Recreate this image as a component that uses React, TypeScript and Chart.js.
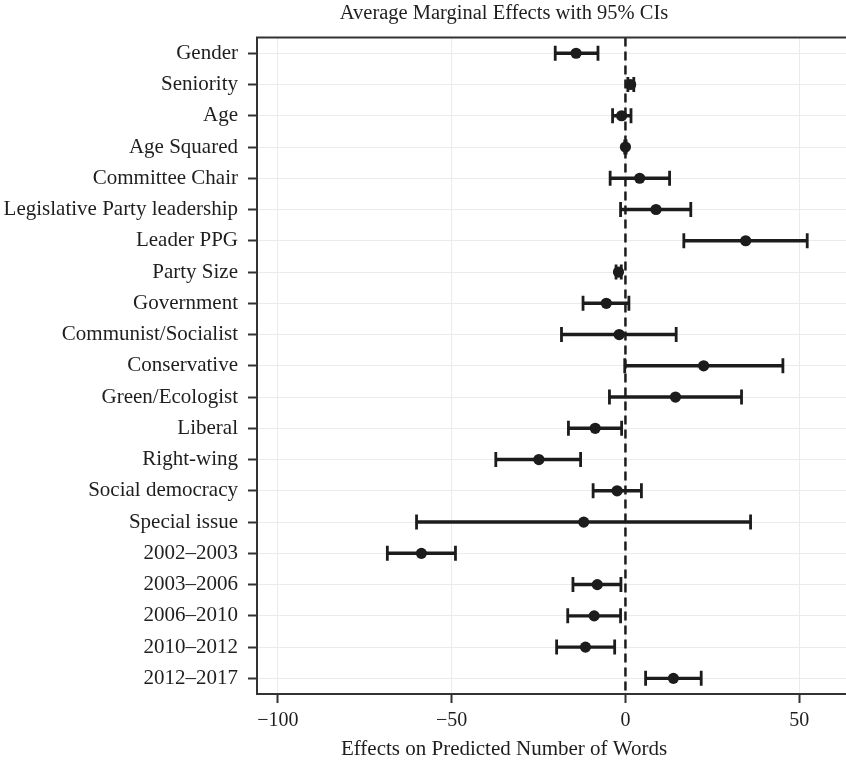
import React, { useEffect, useRef } from "react";
import { Chart, registerables } from "chart.js";

Chart.register(...registerables);

// ---- data ----
const CATEGORIES = [
  "Gender",
  "Seniority",
  "Age",
  "Age Squared",
  "Committee Chair",
  "Legislative Party leadership",
  "Leader PPG",
  "Party Size",
  "Government",
  "Communist/Socialist",
  "Conservative",
  "Green/Ecologist",
  "Liberal",
  "Right-wing",
  "Social democracy",
  "Special issue",
  "2002–2003",
  "2003–2006",
  "2006–2010",
  "2010–2012",
  "2012–2017",
];
const ESTIMATES = [-14.2, 1.5, -1.1, 0, 4.1, 8.8, 34.6, -2.0, -5.5, -1.8, 22.5, 14.4, -8.7, -24.9, -2.4, -12.0, -58.7, -8.1, -9.0, -11.5, 13.8];
const LOWER = [-20.2, 0.7, -3.7, -0.2, -4.4, -1.4, 16.8, -2.7, -12.2, -18.4, -0.2, -4.6, -16.4, -37.3, -9.3, -60.1, -68.5, -15.1, -16.6, -19.8, 5.8];
const UPPER = [-7.9, 2.4, 1.6, 0.2, 12.7, 18.8, 52.3, -1.2, 1.0, 14.6, 45.3, 33.4, -1.1, -12.9, 4.6, 36.0, -48.9, -1.3, -1.4, -3.1, 21.8];
const X_TICKS = [-100, -50, 0, 50];
const X_MIN = -106;
const X_MAX = 107.1;
const REFERENCE_VALUE = 0;
const TITLE = "Average Marginal Effects with 95% CIs";
const X_TITLE = "Effects on Predicted Number of Words";

// ---- style ----
const FONT = "'Liberation Serif', 'Times New Roman', serif";
const INK = "#1c1c1c";
const TEXT = "#1e1e1e";
const AXIS = "#333333";
const GRID = "#ebebeb";

const fmt = (v: number) => (v < 0 ? "\u2212" + Math.abs(v) : String(v));

const refLinePlugin = {
  id: "refLine",
  beforeDatasetsDraw(chart: any) {
    const { ctx, chartArea, scales } = chart;
    const x = scales.x.getPixelForValue(REFERENCE_VALUE);
    ctx.save();
    ctx.beginPath();
    ctx.setLineDash([9, 5]);
    ctx.lineWidth = 2.5;
    ctx.strokeStyle = INK;
    ctx.moveTo(x, chartArea.top);
    ctx.lineTo(x, chartArea.bottom);
    ctx.stroke();
    ctx.restore();
  },
  afterDraw(chart: any) {
    const { ctx, chartArea } = chart;
    ctx.save();
    ctx.beginPath();
    ctx.lineWidth = 2;
    ctx.strokeStyle = AXIS;
    ctx.moveTo(chartArea.left - 1, chartArea.top);
    ctx.lineTo(chartArea.right, chartArea.top);
    ctx.stroke();
    ctx.restore();
  },
};

export default function App() {
  const ref = useRef<HTMLCanvasElement>(null);

  useEffect(() => {
    const toPts = (arr: number[]) => arr.map((v, i) => ({ x: v, y: CATEGORIES[i] }));
    const chart = new Chart(ref.current as HTMLCanvasElement, {
      type: "bar",
      data: {
        labels: CATEGORIES,
        datasets: [
          {
            type: "line",
            label: "Estimate",
            data: toPts(ESTIMATES),
            showLine: false,
            pointStyle: "circle",
            pointRadius: 5.6,
            pointBackgroundColor: INK,
            pointBorderWidth: 0,
            order: 1,
          } as any,
          {
            type: "line",
            label: "Lower",
            data: toPts(LOWER),
            showLine: false,
            pointStyle: "line",
            pointRotation: 90,
            pointRadius: 7.5,
            pointBorderColor: INK,
            pointBorderWidth: 2.8,
            order: 2,
          } as any,
          {
            type: "line",
            label: "Upper",
            data: toPts(UPPER),
            showLine: false,
            pointStyle: "line",
            pointRotation: 90,
            pointRadius: 7.5,
            pointBorderColor: INK,
            pointBorderWidth: 2.8,
            order: 2,
          } as any,
          {
            type: "bar",
            label: "95% CI",
            data: LOWER.map((l, i) => [l, UPPER[i]]),
            backgroundColor: INK,
            borderWidth: 0,
            barThickness: 2.8,
            order: 3,
          } as any,
        ],
      },
      options: {
        indexAxis: "y",
        responsive: false,
        animation: false,
        devicePixelRatio: 1,
        events: [],
        layout: { padding: 0 },
        plugins: {
          legend: { display: false },
          tooltip: { enabled: false },
          title: {
            display: true,
            text: TITLE,
            color: TEXT,
            font: { family: FONT, size: 20.5, weight: "normal", lineHeight: 1.2 },
            padding: { top: 1, bottom: 12 },
          },
          subtitle: {
            display: true,
            position: "bottom",
            text: X_TITLE,
            color: TEXT,
            font: { family: FONT, size: 21, weight: "normal", lineHeight: 1.0 },
            padding: { top: 0, bottom: 5 },
          },
        },
        scales: {
          x: {
            type: "linear",
            min: X_MIN,
            max: X_MAX,
            afterBuildTicks: (scale: any) => {
              scale.ticks = X_TICKS.map((v) => ({ value: v }));
            },
            grid: {
              color: GRID,
              lineWidth: 1,
              drawTicks: true,
              tickLength: 9,
              tickColor: AXIS,
              tickWidth: 2,
            },
            border: { display: true, color: AXIS, width: 2 },
            ticks: {
              color: TEXT,
              font: { family: FONT, size: 20, lineHeight: 1.2 },
              padding: 6,
              maxRotation: 0,
              callback: (v: any) => fmt(Number(v)),
            },
          },
          y: {
            type: "category",
            labels: CATEGORIES,
            offset: true,
            afterFit: (scale: any) => {
              scale.width = 257;
            },
            grid: {
              offset: false,
              color: GRID,
              lineWidth: 1,
              drawTicks: true,
              tickLength: 9,
              tickColor: AXIS,
              tickWidth: 2,
            },
            border: { display: true, color: AXIS, width: 2 },
            ticks: {
              color: TEXT,
              font: { family: FONT, size: 21, lineHeight: 1.2 },
              padding: 10,
              autoSkip: false,
            },
          },
        },
      },
      plugins: [refLinePlugin],
    } as any);
    return () => chart.destroy();
  }, []);

  return (
    <div
      style={{
        position: "absolute",
        left: 0,
        top: 0,
        width: 846,
        height: 765,
        overflow: "hidden",
        background: "#ffffff",
      }}
    >
      <canvas ref={ref} width={1008} height={765} style={{ display: "block", width: 1008, height: 765 }} />
    </div>
  );
}
